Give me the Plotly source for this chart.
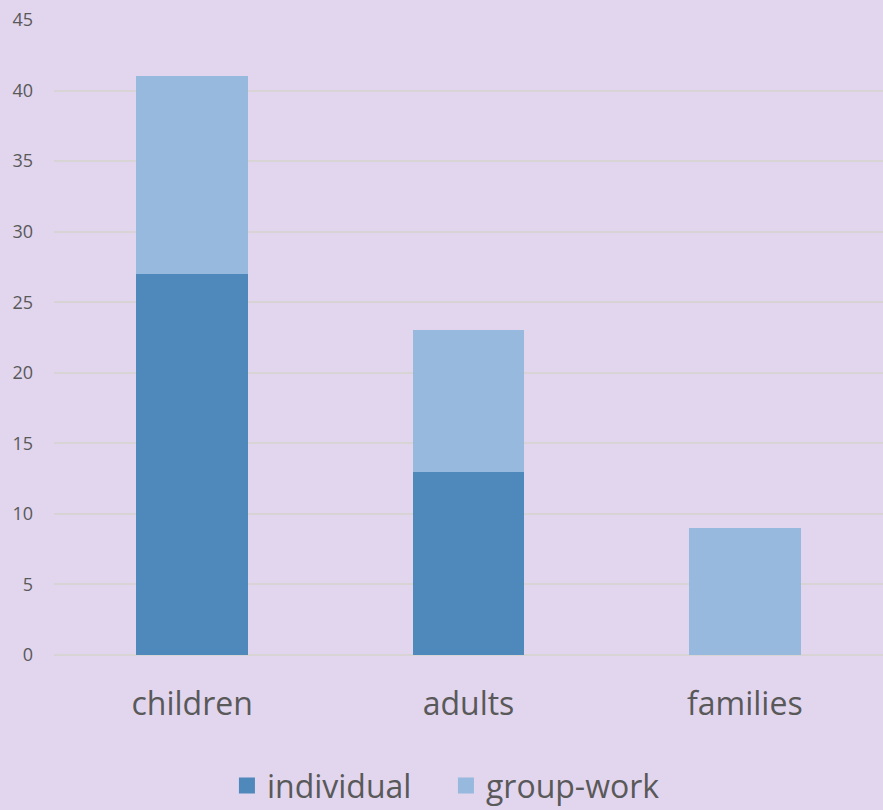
import plotly.graph_objects as go

categories = ["children", "adults", "families"]
individual = [27, 13, 0]
group_work = [14, 10, 9]
y_ticks = [0, 5, 10, 15, 20, 25, 30, 35, 40, 45]
series_names = ["individual", "group-work"]
series_colors = ["#4F88BB", "#97B9DE"]

fig = go.Figure()
fig.add_trace(go.Bar(x=categories, y=individual, name=series_names[0], marker_color=series_colors[0],
                     marker_line_width=0, showlegend=False))
fig.add_trace(go.Bar(x=categories, y=group_work, name=series_names[1], marker_color=series_colors[1],
                     marker_line_width=0, showlegend=False))
# legend entries with large square swatches
for nm, col in zip(series_names, series_colors):
    fig.add_trace(go.Scatter(x=[None], y=[None], mode="markers", name=nm,
                             marker=dict(symbol="square", size=21, color=col)))

fig.update_layout(
    width=883, height=810,
    barmode="stack", bargap=0.595,
    paper_bgcolor="#E2D5EE", plot_bgcolor="#E2D5EE",
    margin=dict(l=54, r=0, t=20, b=155, autoexpand=False),
    font=dict(family="Open Sans", color="#595959"),
    showlegend=True,
    legend=dict(orientation="h", xref="container", yref="container",
                x=0.257, xanchor="left", y=0.030, yanchor="middle",
                font=dict(size=32, color="#595959"), traceorder="normal",
                itemwidth=30, bgcolor="rgba(0,0,0,0)",
                entrywidth=174, entrywidthmode="pixels"),
    xaxis=dict(showgrid=False, showline=False, ticks="", tickfont=dict(size=32, color="#595959"),
               ticklabelstandoff=27),
    yaxis=dict(range=[0, 45], tickvals=y_ticks, showgrid=True, gridcolor="#D8D4D6", gridwidth=1.5,
               zeroline=True, zerolinecolor="#D8D4D6", zerolinewidth=1.5,
               showline=False, ticks="", tickfont=dict(size=18, color="#595959"),
               ticklabelstandoff=20),
)

fig.write_html("out.html", config={"displayModeBar": False},
               post_script="document.body.style.margin='0';document.body.style.overflow='hidden';")
